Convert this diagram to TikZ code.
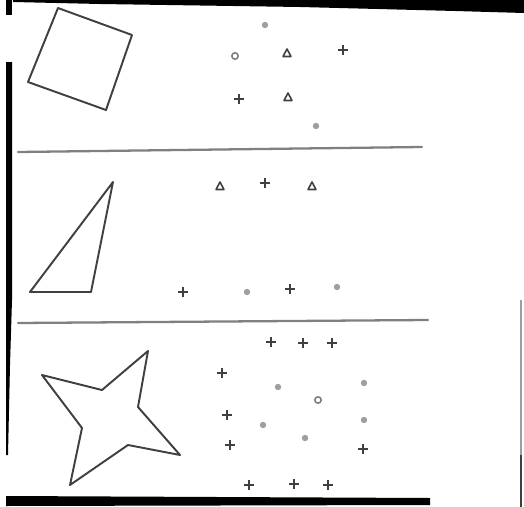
\documentclass[tikz,border=0pt]{standalone}
\usetikzlibrary{calc}
\definecolor{inkdark}{gray}{0.25}
\definecolor{inkgray}{gray}{0.5}
\definecolor{inklight}{gray}{0.62}
\tikzset{
    outline/.style={draw=inkdark, line width=1.1pt, line join=round},
    divider/.style={draw=inkgray, line width=1.3pt, line cap=round},
    scanedge/.style={fill=black},
    markline/.style={draw=inkdark, line width=0.9pt},
    plusmark/.pic={\draw[markline] (-5,0) -- (5,0) (0,-5) -- (0,5);},
    trimark/.pic={\draw[markline, line join=round] (-4,3.5) -- (0,-4) -- (4,3.5) -- cycle;},
    ringmark/.pic={\draw[draw=inkgray, line width=0.9pt] (0,0) circle (3.2);},
    dotmark/.pic={\fill[inklight] (0,0) circle (3.2);}
}
\begin{document}
\begin{tikzpicture}[x=0.02cm, y=-0.02cm]
    \fill[white] (0,0) rectangle (524,507);
    \useasboundingbox (0,0) rectangle (524,507);

    % edges of the scan
    \fill[scanedge] (13,0) -- (524,0) -- (524,13) -- (455,11) -- (300,7) -- (100,4) -- (13,2) -- cycle;
    \fill[scanedge] (6,0) -- (12,0) -- (12,15) -- (6,15) -- cycle;
    \fill[scanedge] (6,62) -- (12,62) -- (12,300) -- (10,365) -- (8,455) -- (6,455) -- cycle;
    \fill[scanedge] (6,496) -- (430,498) -- (430,505) -- (6,506) -- cycle;
    \draw[inklight, line width=0.8pt] (521,300) -- (521,455);
    \draw[inkdark, line width=1.2pt] (521,455) -- (521,507);

    % shapes
    \draw[outline] (58,8) -- (132,35) -- (106,110) -- (28,82) -- cycle;
    \draw[outline] (113,182) -- (30,292) -- (91,292) -- cycle;
    \draw[outline] (148,351) -- (102,390) -- (42,375) -- (82,428) -- (70,485)
        -- (128,445) -- (180,455) -- (138,407) -- cycle;

    % dividers
    \draw[divider] (18,152) -- (422,147);
    \draw[divider] (18,323) -- (428,320);

    % marks
    \foreach \p in {(343,50),(239,99),(265,183),(183,292),(290,289),
                    (271,342),(303,343),(332,343),(222,373),(227,415),
                    (230,445),(363,449),(249,485),(294,484),(328,485)}
        \pic at \p {plusmark};
    \foreach \p in {(287,53),(288,97),(220,186),(312,186)}
        \pic at \p {trimark};
    \foreach \p in {(235,56),(318,400)}
        \pic at \p {ringmark};
    \foreach \p in {(265,25),(316,126),(247,292),(337,287),(278,387),
                    (364,383),(263,425),(364,420),(305,438)}
        \pic at \p {dotmark};
\end{tikzpicture}
\end{document}
